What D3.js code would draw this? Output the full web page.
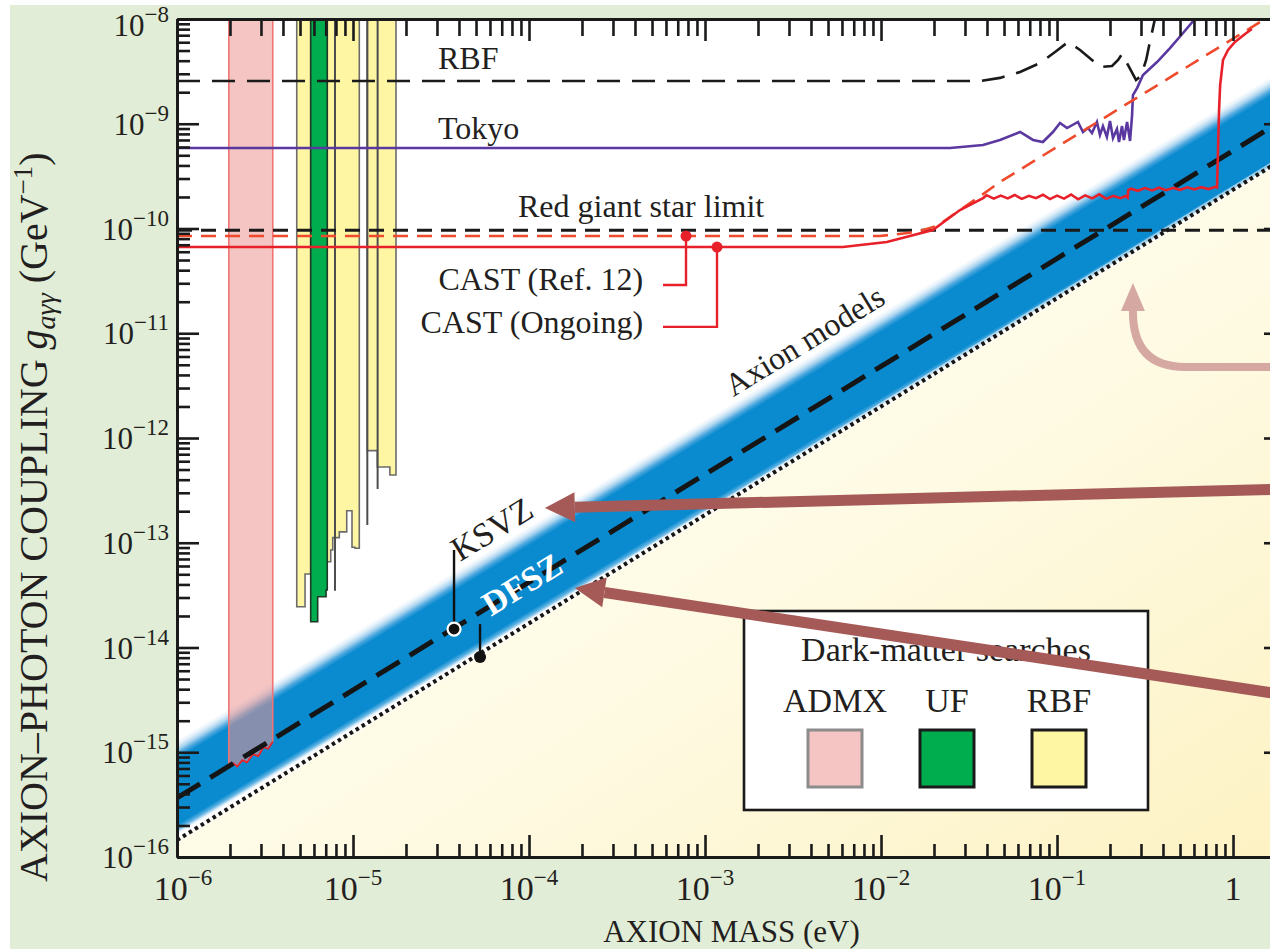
<!DOCTYPE html>
<html>
<head>
<meta charset="utf-8">
<script src="https://d3js.org/d3.v7.min.js"></script>
<style>
body { margin: 0; background: #fff; }
svg text { font-family: "Liberation Serif", "Times New Roman", serif; fill: #231f20; }
</style>
</head>
<body>
<svg id="chart" width="1270" height="949"></svg>
<script>
// ---- axes
const massTicks = [1e-6, 1e-5, 1e-4, 1e-3, 1e-2, 1e-1, 1];
const massExp = ["−6", "−5", "−4", "−3", "−2", "−1", null];
const couplingTicks = [1e-16, 1e-15, 1e-14, 1e-13, 1e-12, 1e-11, 1e-10, 1e-9, 1e-8];
const couplingExp = ["−16", "−15", "−14", "−13", "−12", "−11", "−10", "−9", "−8"];

// ---- axion model lines (mass eV, coupling GeV^-1)
const ksvzLine = [[1e-6, 3.66e-16], [2, 1.13e-9]];
const dfszLine = [[1e-6, 1.45e-16], [2, 4.8e-10]];
const bandTop = [[1e-6, 1.31e-15], [2, 3.45e-9]];

// ---- dark matter searches
const admxRange = [1.97e-6, 3.5e-6];
const admxFloor = [[1.97e-6, 7.1e-16], [2.1e-6, 7.8e-16], [2.2e-6, 7.3e-16], [2.35e-6, 8.4e-16], [2.5e-6, 8.0e-16],
  [2.7e-6, 9.6e-16], [2.9e-6, 9.2e-16], [3.1e-6, 1.12e-15], [3.3e-6, 1.08e-15], [3.5e-6, 1.26e-15]];
const ufSteps = [[5.75e-6, 6.30e-6, 1.76e-14], [6.30e-6, 7.03e-6, 3.05e-14], [7.03e-6, 7.14e-6, 3.54e-14]];
const rbfSteps = [
  [[4.79e-6, 5.34e-6, 2.45e-14], [5.34e-6, 5.75e-6, 5.03e-14]],
  [[7.14e-6, 7.47e-6, 6.59e-14], [7.47e-6, 7.67e-6, 8.53e-14], [7.67e-6, 8.36e-6, 1.12e-13], [8.36e-6, 9.21e-6, 1.27e-13],
   [9.21e-6, 9.87e-6, 2.02e-13], [9.87e-6, 1.026e-5, 9.06e-14], [1.026e-5, 1.086e-5, 8.85e-14]],
  [[1.206e-5, 1.374e-5, 7.57e-13], [1.374e-5, 1.62e-5, 5.29e-13], [1.62e-5, 1.755e-5, 4.43e-13]]
];
const rbfSlivers = [[7.9e-6, 3.48e-14], [1.206e-5, 1.48e-13], [1.38e-5, 3.26e-13]];

// ---- limits
const redGiant = [[1e-6, 9.6e-11], [2, 9.6e-11]];
const rbfLimit = [[1e-6, 2.56e-9], [0.0365, 2.56e-9], [0.0474, 2.74e-9], [0.0617, 3.12e-9], [0.080, 3.80e-9],
  [0.0975, 4.84e-9], [0.1156, 6.03e-9], [0.1352, 5.06e-9], [0.158, 4.06e-9], [0.1754, 3.48e-9], [0.2055, 3.56e-9],
  [0.2223, 4.06e-9], [0.234, 4.63e-9], [0.253, 3.64e-9], [0.281, 2.62e-9], [0.300, 2.86e-9], [0.321, 4.06e-9],
  [0.337, 6.03e-9], [0.360, 1e-8]];
const tokyo = [[1e-6, 5.87e-10], [0.0247, 5.87e-10], [0.038, 6.27e-10], [0.0474, 7.0e-10], [0.0617, 8.34e-10],
  [0.0731, 7.0e-10], [0.0831, 6.7e-10], [0.0948, 8.34e-10], [0.104, 1.016e-9], [0.114, 9.1e-10], [0.1315, 1.04e-9],
  [0.1405, 8.34e-10], [0.150, 9.1e-10], [0.158, 8.17e-10], [0.1686, 1.04e-9], [0.1754, 7.8e-10], [0.1824, 9.5e-10],
  [0.192, 7.5e-10], [0.200, 1.06e-9], [0.208, 7.3e-10], [0.219, 8.9e-10], [0.225, 6.7e-10], [0.234, 9.5e-10],
  [0.240, 7.0e-10], [0.250, 1.04e-9], [0.260, 6.85e-10], [0.267, 1.21e-9], [0.270, 1.88e-9], [0.285, 2.19e-9],
  [0.308, 2.92e-9], [0.370, 3.88e-9], [0.4385, 5.28e-9], [0.520, 7.35e-9], [0.608, 1e-8]];
const castRef12 = [[1e-6, 8.47e-11], [0.00986, 8.47e-11], [0.016, 9.27e-11], [0.0208, 1.057e-10], [0.0281, 1.50e-10],
  [0.038, 2.13e-10], [0.0474, 2.78e-10], [1.52, 1e-8]];
const castOngoing = [[1e-6, 6.65e-11], [0.00608, 6.65e-11], [0.0108, 7.43e-11], [0.0197, 9.68e-11], [0.0281, 1.50e-10],
  [0.0380, 1.95e-10], [0.0398, 2.08e-10], [0.0437, 1.93e-10], [0.0479, 2.06e-10], [0.0525, 1.94e-10], [0.0575, 2.09e-10],
  [0.0631, 1.92e-10], [0.0692, 2.05e-10], [0.0759, 1.95e-10], [0.0832, 2.10e-10], [0.0912, 1.91e-10], [0.100, 2.06e-10],
  [0.1096, 1.93e-10], [0.1202, 2.11e-10], [0.1318, 1.90e-10], [0.1445, 2.07e-10], [0.1585, 1.94e-10], [0.1738, 2.12e-10],
  [0.1905, 1.92e-10], [0.2089, 2.05e-10], [0.2291, 1.95e-10], [0.2455, 2.04e-10], [0.252, 1.97e-10],
  [0.254, 2.33e-10], [0.263, 2.40e-10], [0.288, 2.29e-10], [0.316, 2.43e-10], [0.347, 2.31e-10], [0.380, 2.45e-10],
  [0.417, 2.32e-10], [0.457, 2.44e-10], [0.501, 2.34e-10], [0.550, 2.47e-10], [0.603, 2.36e-10], [0.661, 2.48e-10],
  [0.724, 2.38e-10], [0.794, 2.50e-10], [0.811, 2.46e-10], [0.822, 5.61e-10], [0.833, 1.35e-9], [0.845, 2.34e-9],
  [0.877, 4.06e-9], [0.937, 5.06e-9], [1.026, 6.03e-9], [1.17, 7.19e-9], [1.28, 8.03e-9]];

// ---- annotations (data coordinates)
const plainLabels = [
  { text: "RBF", m: 3.04e-5, g: 3.33e-9, anchor: "start" },
  { text: "Tokyo", m: 3.04e-5, g: 7.15e-10, anchor: "start" },
  { text: "Red giant star limit", m: 8.66e-5, g: 1.29e-10, anchor: "start" },
  { text: "CAST (Ref. 12)", m: 4.45e-4, g: 2.59e-11, anchor: "end" },
  { text: "CAST (Ongoing)", m: 4.45e-4, g: 1.0e-11, anchor: "end" }
];
const castLeaders = [
  [[5.77e-4, 2.89e-11], [7.80e-4, 2.89e-11], [7.80e-4, 8.47e-11]],
  [[5.77e-4, 1.15e-11], [1.17e-3, 1.15e-11], [1.17e-3, 6.65e-11]]
];
const ksvzMarker = { m: 3.75e-5, g: 1.50e-14, top: 8.53e-14 };
const dfszMarker = { m: 5.27e-5, g: 8.11e-15, top: 1.67e-14 };
const arrowKsvz = [[2, 3.26e-13], [1.23e-4, 2.15e-13]];
const arrowDfsz = [[2, 3.52e-15], [1.82e-4, 3.70e-14]];
const arrowCast = [[2, 4.76e-12], [0.533, 4.76e-12], [0.270, 4.76e-12], [0.270, 1.60e-11], [0.270, 3.02e-11]];
const legendItems = ["ADMX", "UF", "RBF"];

// ---------------------------------------------------------------
const svg = d3.select("#chart");
const x = d3.scaleLog().domain([1e-6, 2]).range([177, 1286]);
const y = d3.scaleLog().domain([1e-16, 1e-8]).range([857, 19]);
const line = d3.line().x(d => x(d[0])).y(d => y(d[1]));
const gTop = 1e-8;

function logAt(seg, m) {
  const t = (Math.log10(m) - Math.log10(seg[0][0])) / (Math.log10(seg[1][0]) - Math.log10(seg[0][0]));
  return Math.pow(10, Math.log10(seg[0][1]) + t * (Math.log10(seg[1][1]) - Math.log10(seg[0][1])));
}

svg.append("rect").attr("x", 10).attr("y", 5).attr("width", 1260).attr("height", 944).attr("fill", "#e1edd6");

const defs = svg.append("defs");
defs.append("clipPath").attr("id", "plot").append("rect")
  .attr("x", x.range()[0]).attr("y", y.range()[1])
  .attr("width", x.range()[1] - x.range()[0]).attr("height", y.range()[0] - y.range()[1]);

// band gradient perpendicular to the band
const mMid = 1e-3;
const k = (y(bandTop[1][1]) - y(bandTop[0][1])) / (x(bandTop[1][0]) - x(bandTop[0][0]));
const p1 = [x(mMid), y(logAt(bandTop, mMid))];
const h = y(logAt(dfszLine, mMid)) - p1[1];
const p2 = [p1[0] - k * h / (1 + k * k), p1[1] + h / (1 + k * k)];
const bg = defs.append("linearGradient").attr("id", "band").attr("gradientUnits", "userSpaceOnUse")
  .attr("x1", p1[0]).attr("y1", p1[1]).attr("x2", p2[0]).attr("y2", p2[1]);
[[0, "#ffffff"], [0.05, "#e2f0fa"], [0.10, "#a9d3ef"], [0.15, "#4ba7de"], [0.20, "#0a8bd0"],
 [0.89, "#0a8bd0"], [0.94, "#5fb2e2"], [0.98, "#e6f3fb"], [1, "#ffffff"]]
  .forEach(s => bg.append("stop").attr("offset", s[0]).attr("stop-color", s[1]));

const cg = defs.append("linearGradient").attr("id", "cream")
  .attr("x1", 0.2).attr("y1", 0.2).attr("x2", 1).attr("y2", 1);
cg.append("stop").attr("offset", 0).attr("stop-color", "#fffef6");
cg.append("stop").attr("offset", 0.5).attr("stop-color", "#fefae2");
cg.append("stop").attr("offset", 1).attr("stop-color", "#fdf2c3");

const plot = svg.append("g").attr("clip-path", "url(#plot)");
plot.append("rect").attr("x", x.range()[0]).attr("y", y.range()[1])
  .attr("width", x.range()[1] - x.range()[0]).attr("height", y.range()[0] - y.range()[1]).attr("fill", "#fff");

const [m0, m1] = x.domain();
plot.append("path")
  .attr("d", line([[m0, logAt(dfszLine, m0)], [m1, logAt(dfszLine, m1)], [m1, 1e-16], [m0, 1e-16]]) + "Z")
  .attr("fill", "url(#cream)");
plot.append("path")
  .attr("d", line([[m0, logAt(bandTop, m0)], [m1, logAt(bandTop, m1)], [m1, logAt(dfszLine, m1)], [m0, logAt(dfszLine, m0)]]) + "Z")
  .attr("fill", "url(#band)");

// ADMX
plot.append("path")
  .attr("d", line([[admxRange[0], gTop], ...admxFloor, [admxRange[1], gTop]]) + "Z")
  .attr("fill", "rgb(237,150,146)").attr("fill-opacity", 0.55);
[admxRange[0], admxRange[1]].forEach((m, i) => {
  plot.append("path").attr("d", line([[m, gTop], admxFloor[i ? admxFloor.length - 1 : 0]]))
    .attr("stroke", "#f07474").attr("stroke-width", 1.6).attr("fill", "none");
});
plot.append("path").attr("d", line(admxFloor)).attr("stroke", "#e8242a").attr("stroke-width", 1.8).attr("fill", "none");

function stepPath(steps) {
  const pts = [[steps[0][0], gTop]];
  steps.forEach(s => { pts.push([s[0], s[2]]); pts.push([s[1], s[2]]); });
  pts.push([steps[steps.length - 1][1], gTop]);
  return line(pts) + "Z";
}
rbfSteps.forEach(st => plot.append("path").attr("d", stepPath(st))
  .attr("fill", "#fef6a3").attr("stroke", "#6b6b6b").attr("stroke-width", 1.6));
rbfSlivers.forEach(s => plot.append("path").attr("d", line([[s[0], gTop], [s[0], s[1]]]))
  .attr("stroke", "#4d4d4d").attr("stroke-width", 2));
plot.append("path").attr("d", stepPath(ufSteps))
  .attr("fill", "#00ad4e").attr("stroke", "#1e3a26").attr("stroke-width", 1.6);

// model lines
const ext = seg => [[m0, logAt(seg, m0)], [m1, logAt(seg, m1)]];
plot.append("path").attr("d", line(ext(dfszLine))).attr("stroke", "#ffffff").attr("stroke-opacity", 0.5)
  .attr("stroke-width", 7).attr("fill", "none");
plot.append("path").attr("d", line(ext(dfszLine))).attr("stroke", "#151515")
  .attr("stroke-width", 4).attr("stroke-dasharray", "3.5,3.5").attr("fill", "none");
plot.append("path").attr("d", line(ext(ksvzLine))).attr("stroke", "#151515")
  .attr("stroke-width", 5).attr("stroke-dasharray", "27,12").attr("fill", "none");

// limits
plot.append("path").attr("d", line(rbfLimit)).attr("stroke", "#1a1a1a").attr("stroke-width", 2.6)
  .attr("stroke-dasharray", "23,12").attr("fill", "none");
plot.append("path").attr("d", line(tokyo)).attr("stroke", "#5a38a0").attr("stroke-width", 2.6).attr("fill", "none");
plot.append("path").attr("d", line(redGiant)).attr("stroke", "#1a1a1a").attr("stroke-width", 3)
  .attr("stroke-dasharray", "15,9").attr("fill", "none");
plot.append("path").attr("d", line(castRef12)).attr("stroke", "#ef4a2c").attr("stroke-width", 2.6)
  .attr("stroke-dasharray", "15,9").attr("fill", "none");
plot.append("path").attr("d", line(castOngoing)).attr("stroke", "#e8202a").attr("stroke-width", 2.6).attr("fill", "none");

// annotations
plainLabels.forEach(l => svg.append("text").attr("x", x(l.m)).attr("y", y(l.g))
  .attr("text-anchor", l.anchor).attr("font-size", 32).text(l.text));
castLeaders.forEach(pts => {
  svg.append("path").attr("d", line(pts)).attr("stroke", "#e8202a").attr("stroke-width", 2.4).attr("fill", "none");
  const e = pts[pts.length - 1];
  svg.append("circle").attr("cx", x(e[0])).attr("cy", y(e[1])).attr("r", 5.5).attr("fill", "#e8202a");
});

const ang = Math.atan2(y(ksvzLine[1][1]) - y(ksvzLine[0][1]), x(ksvzLine[1][0]) - x(ksvzLine[0][0])) * 180 / Math.PI;
const rotated = [
  { text: "Axion models", m: 3.96e-3, g: 6.92e-12, anchor: "middle", fill: "#231f20", weight: "normal", size: 32 },
  { text: "KSVZ", m: 4.06e-5, g: 6.55e-14, anchor: "start", fill: "#231f20", weight: "normal", size: 34 },
  { text: "DFSZ", m: 9.86e-5, g: 3.24e-14, anchor: "middle", fill: "#ffffff", weight: "bold", size: 34 }
];
rotated.forEach(l => svg.append("text")
  .attr("transform", `translate(${x(l.m)},${y(l.g)}) rotate(${ang})`)
  .attr("text-anchor", l.anchor).attr("font-size", l.size).attr("font-weight", l.weight)
  .style("fill", l.fill).text(l.text));

[[ksvzMarker, true], [dfszMarker, false]].forEach(([mk, ring]) => {
  svg.append("line").attr("x1", x(mk.m)).attr("x2", x(mk.m)).attr("y1", y(mk.top)).attr("y2", y(mk.g))
    .attr("stroke", "#111").attr("stroke-width", 2.4);
  svg.append("circle").attr("cx", x(mk.m)).attr("cy", y(mk.g)).attr("r", ring ? 6.5 : 6)
    .attr("fill", "#111").attr("stroke", ring ? "#fff" : "none").attr("stroke-width", 2.2);
});

// ---- axes
const majorLen = 22, minorLen = 13;
const minorX = x.ticks().filter(v => !massTicks.some(t => Math.abs(t - v) / t < 1e-6));
const minorY = y.ticks().filter(v => !couplingTicks.some(t => Math.abs(t - v) / t < 1e-6));
const axisStyle = g => {
  g.selectAll(".domain").attr("stroke", "#1a1a1a").attr("stroke-width", 3);
  g.selectAll(".tick line").attr("stroke", "#1a1a1a").attr("stroke-width", 2.6);
  g.selectAll(".tick text").remove();
};
[[d3.axisBottom, "translate(0,857)", x, massTicks, minorX, minorLen],
 [d3.axisTop, "translate(0,19)", x, massTicks, minorX, 17],
 [d3.axisLeft, "translate(177,0)", y, couplingTicks, minorY, minorLen],
 [d3.axisRight, "translate(1286,0)", y, couplingTicks, minorY, minorLen]]
  .forEach(([fn, tr, sc, major, minor, ml]) => {
    svg.append("g").attr("transform", tr).call(fn(sc).tickValues(minor).tickSize(-ml).tickSizeOuter(0)).call(axisStyle);
    svg.append("g").attr("transform", tr).call(fn(sc).tickValues(major).tickSize(-majorLen).tickSizeOuter(0)).call(axisStyle);
  });

massTicks.forEach((v, i) => {
  const t = svg.append("text").attr("x", x(v) + (i === 0 ? 6 : 0)).attr("y", 900).attr("text-anchor", "middle");
  t.append("tspan").attr("font-size", 34).text(massExp[i] ? "10" : "1");
  if (massExp[i]) t.append("tspan").attr("font-size", 23).attr("dy", -15).text(massExp[i]);
});
couplingTicks.forEach((v, i) => {
  const top = i === couplingTicks.length - 1;
  const t = svg.append("text").attr("x", 169).attr("y", y(v) + (top ? 17 : 11)).attr("text-anchor", "end");
  t.append("tspan").attr("font-size", 31).text("10");
  t.append("tspan").attr("font-size", 23).attr("dy", -14).text(couplingExp[i]);
});

svg.append("text").attr("x", (x.range()[0] + x.range()[1]) / 2).attr("y", 942).attr("text-anchor", "middle")
  .attr("font-size", 31).text("AXION MASS (eV)");
const yl = svg.append("text").attr("transform", "translate(47,882) rotate(-90)").attr("text-anchor", "start")
  .attr("font-size", 40);
yl.append("tspan").text("AXION–PHOTON COUPLING ");
yl.append("tspan").attr("font-style", "italic").text("g");
yl.append("tspan").attr("font-style", "italic").attr("font-size", 28).attr("dy", 8).text("aγγ");
yl.append("tspan").attr("dy", -8).text(" (GeV");
yl.append("tspan").attr("font-size", 27).attr("dy", -15).text("−1");
yl.append("tspan").attr("dy", 15).text(")");

// ---- legend
const lg = svg.append("g").attr("transform", "translate(744,611)");
lg.append("rect").attr("width", 404).attr("height", 199).attr("fill", "#fff").attr("stroke", "#1a1a1a").attr("stroke-width", 2.6);
lg.append("text").attr("x", 202).attr("y", 50).attr("text-anchor", "middle").attr("font-size", 34).text("Dark-matter searches");
const swatch = [["#f5c5c3", "#8c8c8c"], ["#00ad4e", "#1a1a1a"], ["#fef6a3", "#1a1a1a"]];
legendItems.forEach((name, i) => {
  const cx = 91 + i * 112;
  lg.append("text").attr("x", cx).attr("y", 101).attr("text-anchor", "middle").attr("font-size", 34).text(name);
  lg.append("rect").attr("x", cx - 27).attr("y", 119).attr("width", 54).attr("height", 57)
    .attr("fill", swatch[i][0]).attr("stroke", swatch[i][1]).attr("stroke-width", 3);
});

// ---- arrows
function arrow(pts, color, width, headLen, headW) {
  const px = pts.map(p => [x(p[0]), y(p[1])]);
  const tip = px[px.length - 1], prev = px[px.length - 2];
  const dx = tip[0] - prev[0], dy = tip[1] - prev[1], L = Math.hypot(dx, dy);
  const ux = dx / L, uy = dy / L;
  const base = [tip[0] - ux * headLen, tip[1] - uy * headLen];
  const shaft = px.slice(0, -1).concat([base]);
  let d;
  if (shaft.length === 5) {
    d = `M${shaft[0]}L${shaft[1]}Q${shaft[2]} ${shaft[3]}L${shaft[4]}`;
  } else {
    d = "M" + shaft.join("L");
  }
  svg.append("path").attr("d", d).attr("stroke", color).attr("stroke-width", width).attr("fill", "none");
  svg.append("path").attr("d", `M${tip}L${base[0] - uy * headW},${base[1] + ux * headW}L${base[0] + uy * headW},${base[1] - ux * headW}Z`)
    .attr("fill", color);
}
arrow(arrowCast, "#d5a8a2", 8, 28, 12);
arrow(arrowKsvz, "#a65a58", 11, 30, 15);
arrow(arrowDfsz, "#a65a58", 11, 30, 15);
</script>
</body>
</html>
